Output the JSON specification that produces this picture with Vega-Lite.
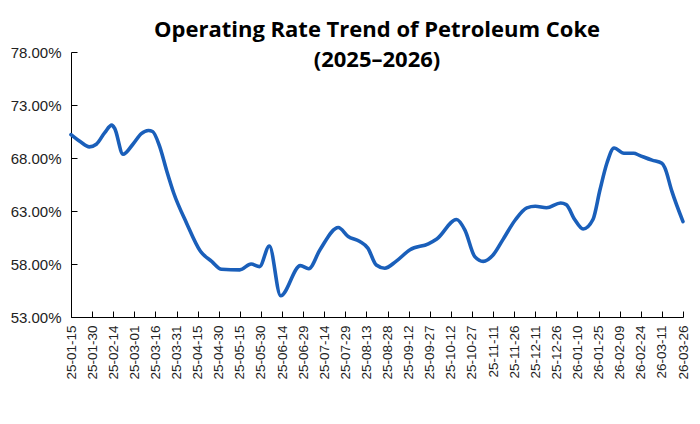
{
  "$schema": "https://vega.github.io/schema/vega-lite/v6.json",
  "description": "Operating rate trend of petroleum coke",
  "autosize": {"type": "none"},
  "width": 612,
  "height": 265,
  "padding": {"left": 71, "top": 52, "right": 17, "bottom": 107},
  "background": "white",
  "title": {
    "text": ["Operating Rate Trend of Petroleum Coke", "(2025–2026)"],
    "font": "Open Sans",
    "fontSize": 22,
    "fontWeight": "bold",
    "color": "#000000",
    "lineHeight": 30,
    "anchor": "middle",
    "offset": -27
  },
  "config": {
    "view": {"stroke": null},
    "axis": {
      "grid": false,
      "title": null,
      "domainColor": "#000000",
      "tickColor": "#000000",
      "labelColor": "#222222",
      "labelFont": "Liberation Sans"
    }
  },
  "data": {
    "values": [
      {"date": "2025-01-15", "rate": 70.2},
      {"date": "2025-01-22", "rate": 69.5},
      {"date": "2025-01-28", "rate": 69.05},
      {"date": "2025-02-02", "rate": 69.3},
      {"date": "2025-02-08", "rate": 70.4},
      {"date": "2025-02-13", "rate": 71.1},
      {"date": "2025-02-15", "rate": 70.8},
      {"date": "2025-02-21", "rate": 68.35},
      {"date": "2025-02-28", "rate": 69.3},
      {"date": "2025-03-06", "rate": 70.3},
      {"date": "2025-03-11", "rate": 70.6},
      {"date": "2025-03-14", "rate": 70.5},
      {"date": "2025-03-19", "rate": 69.1},
      {"date": "2025-03-24", "rate": 66.8},
      {"date": "2025-03-29", "rate": 64.7},
      {"date": "2025-04-07", "rate": 61.9},
      {"date": "2025-04-17", "rate": 59.2},
      {"date": "2025-04-25", "rate": 58.25},
      {"date": "2025-05-02", "rate": 57.5},
      {"date": "2025-05-15", "rate": 57.45},
      {"date": "2025-05-23", "rate": 58.0},
      {"date": "2025-05-29", "rate": 57.75},
      {"date": "2025-06-05", "rate": 59.7},
      {"date": "2025-06-13", "rate": 55.0},
      {"date": "2025-06-27", "rate": 57.85},
      {"date": "2025-07-03", "rate": 57.55},
      {"date": "2025-07-11", "rate": 59.35},
      {"date": "2025-07-24", "rate": 61.45},
      {"date": "2025-07-31", "rate": 60.6},
      {"date": "2025-08-08", "rate": 60.15},
      {"date": "2025-08-14", "rate": 59.5},
      {"date": "2025-08-20", "rate": 57.9},
      {"date": "2025-08-26", "rate": 57.6},
      {"date": "2025-09-03", "rate": 58.25},
      {"date": "2025-09-13", "rate": 59.35},
      {"date": "2025-09-26", "rate": 59.9},
      {"date": "2025-10-02", "rate": 60.35},
      {"date": "2025-10-16", "rate": 62.2},
      {"date": "2025-10-22", "rate": 61.2},
      {"date": "2025-10-29", "rate": 58.7},
      {"date": "2025-11-04", "rate": 58.25},
      {"date": "2025-11-11", "rate": 58.85},
      {"date": "2025-11-18", "rate": 60.3},
      {"date": "2025-11-27", "rate": 62.2},
      {"date": "2025-12-05", "rate": 63.3},
      {"date": "2025-12-11", "rate": 63.45},
      {"date": "2025-12-19", "rate": 63.3},
      {"date": "2025-12-29", "rate": 63.75},
      {"date": "2026-01-02", "rate": 63.6},
      {"date": "2026-01-08", "rate": 62.2},
      {"date": "2026-01-14", "rate": 61.3},
      {"date": "2026-01-21", "rate": 62.2},
      {"date": "2026-01-26", "rate": 65.0},
      {"date": "2026-01-31", "rate": 67.55},
      {"date": "2026-02-05", "rate": 68.95},
      {"date": "2026-02-12", "rate": 68.45},
      {"date": "2026-02-19", "rate": 68.45},
      {"date": "2026-02-23", "rate": 68.25},
      {"date": "2026-03-04", "rate": 67.8},
      {"date": "2026-03-11", "rate": 67.5},
      {"date": "2026-03-13", "rate": 67.1},
      {"date": "2026-03-18", "rate": 64.9},
      {"date": "2026-03-26", "rate": 62.0}
    ]
  },
  "mark": {
    "type": "line",
    "interpolate": "monotone",
    "color": "#1a5fba",
    "strokeWidth": 3.6,
    "strokeCap": "round",
    "strokeJoin": "round"
  },
  "encoding": {
    "x": {
      "field": "date",
      "type": "temporal",
      "scale": {
        "type": "utc",
        "domain": [
          {"year": 2025, "month": 1, "date": 15, "utc": true},
          {"year": 2026, "month": 3, "date": 26, "utc": true}
        ]
      },
      "axis": {
        "values": [
          {"year": 2025, "month": 1, "date": 15, "utc": true},
          {"year": 2025, "month": 1, "date": 30, "utc": true},
          {"year": 2025, "month": 2, "date": 14, "utc": true},
          {"year": 2025, "month": 3, "date": 1, "utc": true},
          {"year": 2025, "month": 3, "date": 16, "utc": true},
          {"year": 2025, "month": 3, "date": 31, "utc": true},
          {"year": 2025, "month": 4, "date": 15, "utc": true},
          {"year": 2025, "month": 4, "date": 30, "utc": true},
          {"year": 2025, "month": 5, "date": 15, "utc": true},
          {"year": 2025, "month": 5, "date": 30, "utc": true},
          {"year": 2025, "month": 6, "date": 14, "utc": true},
          {"year": 2025, "month": 6, "date": 29, "utc": true},
          {"year": 2025, "month": 7, "date": 14, "utc": true},
          {"year": 2025, "month": 7, "date": 29, "utc": true},
          {"year": 2025, "month": 8, "date": 13, "utc": true},
          {"year": 2025, "month": 8, "date": 28, "utc": true},
          {"year": 2025, "month": 9, "date": 12, "utc": true},
          {"year": 2025, "month": 9, "date": 27, "utc": true},
          {"year": 2025, "month": 10, "date": 12, "utc": true},
          {"year": 2025, "month": 10, "date": 27, "utc": true},
          {"year": 2025, "month": 11, "date": 11, "utc": true},
          {"year": 2025, "month": 11, "date": 26, "utc": true},
          {"year": 2025, "month": 12, "date": 11, "utc": true},
          {"year": 2025, "month": 12, "date": 26, "utc": true},
          {"year": 2026, "month": 1, "date": 10, "utc": true},
          {"year": 2026, "month": 1, "date": 25, "utc": true},
          {"year": 2026, "month": 2, "date": 9, "utc": true},
          {"year": 2026, "month": 2, "date": 24, "utc": true},
          {"year": 2026, "month": 3, "date": 11, "utc": true},
          {"year": 2026, "month": 3, "date": 26, "utc": true}
        ],
        "format": "%y-%m-%d",
        "labelAngle": 270,
        "labelAlign": "right",
        "labelBaseline": "middle",
        "labelFontSize": 13.5,
        "labelOverlap": false,
        "labelFlush": false,
        "tickSize": -6,
        "labelPadding": 14
      }
    },
    "y": {
      "field": "rate",
      "type": "quantitative",
      "scale": {"domain": [53, 78], "nice": false, "zero": false},
      "axis": {
        "values": [53, 58, 63, 68, 73, 78],
        "labelExpr": "format(datum.value, '.2f') + '%'",
        "labelFontSize": 15,
        "tickSize": -6,
        "labelPadding": 16
      }
    }
  }
}
